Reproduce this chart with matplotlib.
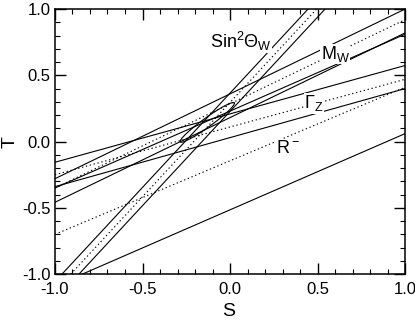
import numpy as np
import matplotlib
matplotlib.use("Agg")
import matplotlib.pyplot as plt

plt.rcParams['font.family'] = ['Liberation Sans', 'DejaVu Sans']
plt.rcParams['axes.unicode_minus'] = False
plt.rcParams['mathtext.fontset'] = 'custom'
plt.rcParams['mathtext.rm'] = 'Liberation Sans'
plt.rcParams['mathtext.it'] = 'Liberation Sans:italic'
plt.rcParams['mathtext.bf'] = 'Liberation Sans:bold'

# sin^2 theta_W band: S values where each line crosses T=-1 and T=+1
sw_S_at_Tm1 = [-0.96, -0.91, -0.863]
sw_S_at_Tp1 = [0.446, 0.495, 0.543]
sw_styles = ['-', ':', '-']

# shallow bands: T values at S=-1 and S=+1 (upper, centre, lower)
mw_T_at_Sm1 = [-0.28, -0.35, -0.458]
mw_T_at_Sp1 = [1.0, 0.92, 0.82]
gz_T_at_Sm1 = [-0.156, -0.25, -0.34]
gz_T_at_Sp1 = [0.574, 0.47, 0.40]
rm_T_at_Sm1 = [-0.35, -0.70, -1.09]
rm_T_at_Sp1 = [0.81, 0.41, 0.06]
band_styles = ['-', ':', '-']

# combined fit ellipse
ell_S0, ell_T0 = -0.13, 0.145
ell_sS, ell_sT, ell_rho = 0.155, 0.15, 0.96

labels = ['Sin$^2\\Theta_{\\rm W}$', 'M$_{\\rm W}$', '$\\Gamma_{\\rm Z}$', 'R$^-$']
label_S = [0.06, 0.60, 0.48, 0.33]
label_T = [0.755, 0.66, 0.29, -0.05]

fig = plt.figure(figsize=(4.15, 3.24), dpi=100)
ax = fig.add_axes([0.1325, 0.154, 0.8435, 0.818])

lw = 0.8
dot = (0, (1.2, 2.4))
def style(st):
    return dot if st == ':' else st

for a, b, st in zip(sw_S_at_Tm1, sw_S_at_Tp1, sw_styles):
    ax.plot([a, b], [-1, 1], color='black', lw=lw, ls=style(st))

for left, right in [(mw_T_at_Sm1, mw_T_at_Sp1), (gz_T_at_Sm1, gz_T_at_Sp1),
                    (rm_T_at_Sm1, rm_T_at_Sp1)]:
    for a, b, st in zip(left, right, band_styles):
        ax.plot([-1, 1], [a, b], color='black', lw=lw, ls=style(st))

t = np.linspace(0, 2 * np.pi, 200)
ax.plot(ell_S0 + ell_sS * np.cos(t),
        ell_T0 + ell_sT * (ell_rho * np.cos(t) + np.sqrt(1 - ell_rho**2) * np.sin(t)),
        color='black', lw=lw)

for lab, s, tt in zip(labels, label_S, label_T):
    ax.text(s, tt, lab, ha='center', va='center', fontsize=13, zorder=5,
            bbox=dict(facecolor='white', edgecolor='none', pad=0.3))

ax.set_xlim(-1, 1)
ax.set_ylim(-1, 1)
ax.set_xticks([-1, -0.5, 0, 0.5, 1])
ax.set_yticks([-1, -0.5, 0, 0.5, 1])
ax.set_xticklabels(['-1.0', '-0.5', '0.0', '0.5', '1.0'])
ax.set_yticklabels(['-1.0', '-0.5', '0.0', '0.5', '1.0'])
ax.set_xticks(np.arange(-1, 1.01, 0.1), minor=True)
ax.set_yticks(np.arange(-1, 1.01, 0.1), minor=True)
ax.tick_params(which='both', direction='in', top=True, right=True, labelsize=12)
ax.tick_params(axis='x', which='major', length=8, width=1, pad=6)
ax.tick_params(axis='y', which='major', length=8, width=1, pad=3)
ax.tick_params(which='minor', length=3.6, width=0.8)
for sp in ax.spines.values():
    sp.set_linewidth(1.1)
ax.set_xlabel('S', fontsize=14)
ax.set_ylabel('T', fontsize=14, rotation=90, ha='center', va='center',
              rotation_mode='default')
ax.xaxis.set_label_coords(0.497, -0.109)
ax.yaxis.set_label_coords(-0.129, 0.5)

fig.savefig('out.png', dpi=100)
